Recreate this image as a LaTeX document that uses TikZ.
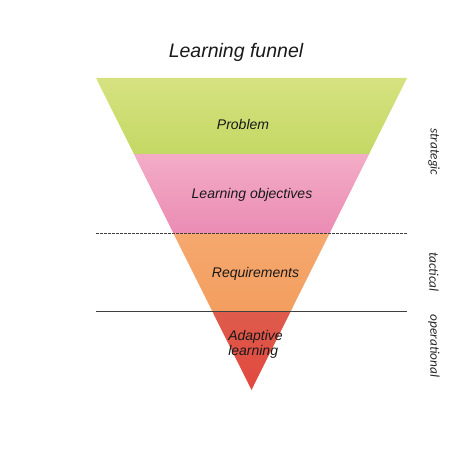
\documentclass[tikz,border=0pt]{standalone}
\usepackage{fontspec}
\setmainfont{Liberation Sans}
\newfontfamily\sidefont{Carlito}
\usetikzlibrary{positioning}
\definecolor{bandgreentop}{RGB}{214,226,128}
\definecolor{bandgreenbot}{RGB}{196,216,100}
\definecolor{bandpinktop}{RGB}{243,172,198}
\definecolor{bandpinkbot}{RGB}{235,140,180}
\definecolor{bandorangetop}{RGB}{246,168,110}
\definecolor{bandorangebot}{RGB}{243,158,96}
\definecolor{bandredtop}{RGB}{222,92,76}
\definecolor{bandredbot}{RGB}{226,72,62}
\tikzset{
x=1pt, y=-1pt, % pixel-like units, y pointing down
band/.style={draw=none}, % the coloured layers of the funnel
layer/.style={font=\itshape\fontsize{14}{15}\selectfont, text=black!90, inner sep=0pt}, % labels inside the funnel
level/.style={font=\sidefont\itshape\fontsize{13.3}{14}\selectfont, text=black!85, rotate=-90, inner sep=0pt}, % labels at the right
divider/.style={line width=0.8pt, black!75}, % lines between the levels
}
\begin{document}
\begin{tikzpicture}
            \useasboundingbox (0,0) rectangle (470,470);
            \coordinate (tl) at (96,78);
            \coordinate (tr) at (407,78);
            \coordinate (apex) at (251.5,390);
            \begin{scope}
                \clip (tl) -- (tr) -- (apex) -- cycle;
                \shade[band, top color=bandgreentop, bottom color=bandgreenbot] (90,78) rectangle (410,155);
                \shade[band, top color=bandpinktop, bottom color=bandpinkbot] (90,155) rectangle (410,233);
                \shade[band, top color=bandorangetop, bottom color=bandorangebot] (90,233) rectangle (410,311);
                \shade[band, top color=bandredtop, bottom color=bandredbot] (90,311) rectangle (410,391);
            \end{scope}
            % level dividers
            \coordinate (dl) at (96,233);
            \coordinate (dr) at (407,233);
            \coordinate (sl) at (96,311);
            \coordinate (sr) at (407,311);
            \draw[divider, line width=0.7pt, dash pattern=on 2.5pt off 1.5pt] (dl) -- (dr);
            \draw[divider] (sl) -- (sr);
            % texts
            \node[font=\itshape\fontsize{19.5}{21}\selectfont, text=black!90] (title) at (236,52) {Learning funnel};
            \node[layer] (problem) at (243,124) {Problem};
            \node[layer] (objectives) at (252,195) {Learning objectives};
            \node[layer] (requirements) at (255.5,274) {Requirements};
            \node[layer, align=left, font=\itshape\fontsize{14}{15}\selectfont] (adaptive) at (255.5,344) {Adaptive\\learning};
            \node[level] (strategic) at (434,152) {strategic};
            \node[level] (tactical) at (434,272) {tactical};
            \node[level] (operational) at (434,346) {operational};
\end{tikzpicture}
\end{document}
